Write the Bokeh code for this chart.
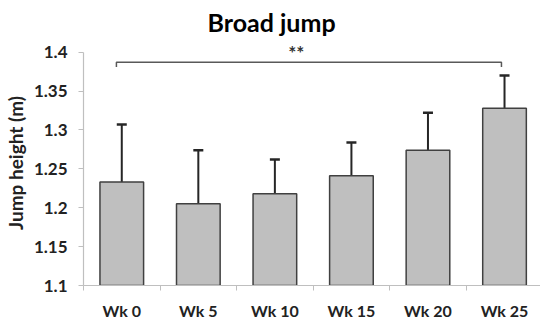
from bokeh.plotting import figure
from bokeh.models import FixedTicker, Whisker, TeeHead, ColumnDataSource, Range1d, Title
from bokeh.core.properties import value
from bokeh.embed import file_html
from bokeh.resources import INLINE

weeks = ["Wk 0", "Wk 5", "Wk 10", "Wk 15", "Wk 20", "Wk 25"]
means = [1.233, 1.205, 1.218, 1.241, 1.274, 1.328]
sds = [0.074, 0.069, 0.044, 0.043, 0.048, 0.042]
y_ticks = [1.1, 1.15, 1.2, 1.25, 1.3, 1.35, 1.4]
y_tick_labels = ["1.1", "1.15", "1.2", "1.25", "1.3", "1.35", "1.4"]
sig_label = "**"
sig_from, sig_to = 0, 5

FONT = "Lato"
n = len(weeks)
centers = [i + 0.5 for i in range(n)]
bounds = [float(i) for i in range(n + 1)]
uppers = [m + s for m, s in zip(means, sds)]

p = figure(width=540, height=322, output_backend="svg", toolbar_location=None,
           x_range=Range1d(0, 5.97), y_range=Range1d(1.1, 1.415),
           min_border_left=72, min_border_right=0, min_border_top=36, min_border_bottom=20)
p.outline_line_color = None
p.xgrid.grid_line_color = None
p.ygrid.grid_line_color = None
p.background_fill_color = "white"

p.add_layout(Title(text="Broad jump", align="left", offset=124, text_font=FONT, text_font_size="25px",
                   text_font_style="bold", text_color="#000000", standoff=8), "above")

src = ColumnDataSource(dict(x=centers, top=means, upper=uppers))
p.vbar(x="x", top="top", bottom=1.1, width=0.57, source=src, fill_color="#bfbfbf",
       line_color="#404040", line_width=1.5)
p.add_layout(Whisker(source=src, base="x", lower="top", upper="upper", dimension="height",
                     line_color="#262626", line_width=2,
                     upper_head=TeeHead(size=10, line_color="#262626", line_width=2.5),
                     lower_head=None))

# significance bracket
bx0 = centers[sig_from] - 0.07
bx1 = centers[sig_to] - 0.04
by = 1.387
drop = 0.006
p.line([bx0, bx0, bx1, bx1], [by - drop, by, by, by - drop], line_color="#595959", line_width=1.5)
p.text(x=[2.78], y=[1.399], text=[sig_label], text_align="center", text_baseline="middle",
       text_font=value(FONT), text_font_size="19px", text_font_style="bold", text_color="#333333")

# x axis
xa = p.xaxis[0]
xa.ticker = FixedTicker(ticks=centers, minor_ticks=bounds)
xa.major_label_overrides = {c: w for c, w in zip(centers, weeks)}
xa.major_tick_line_color = None
xa.major_tick_out = 0
xa.major_tick_in = 0
xa.minor_tick_line_color = "#bfbfbf"
xa.minor_tick_out = 5
xa.minor_tick_in = 0
xa.axis_line_color = "#bfbfbf"
xa.axis_line_width = 1.2
xa.major_label_text_font = FONT
xa.major_label_text_font_size = "16px"
xa.major_label_text_font_style = "bold"
xa.major_label_text_color = "#222222"
xa.major_label_text_line_height = 0.8
xa.major_label_standoff = 10

# y axis
ya = p.yaxis[0]
ya.ticker = FixedTicker(ticks=y_ticks, minor_ticks=[])
ya.major_label_overrides = {t: l for t, l in zip(y_ticks, y_tick_labels)}
ya.bounds = (1.1, 1.4)
ya.axis_line_color = "#bfbfbf"
ya.axis_line_width = 1.2
ya.major_tick_line_color = "#bfbfbf"
ya.major_tick_out = 5
ya.major_tick_in = 0
ya.minor_tick_line_color = None
ya.major_label_text_font = FONT
ya.major_label_text_font_size = "17px"
ya.major_label_text_font_style = "bold"
ya.major_label_text_color = "#222222"
ya.major_label_standoff = 11
ya.axis_label = "Jump height (m)"
ya.axis_label_text_font = FONT
ya.axis_label_text_font_size = "19px"
ya.axis_label_text_font_style = "bold"
ya.axis_label_text_color = "#222222"
ya.axis_label_standoff = 4

open("out.html", "w").write(file_html(p, INLINE))
